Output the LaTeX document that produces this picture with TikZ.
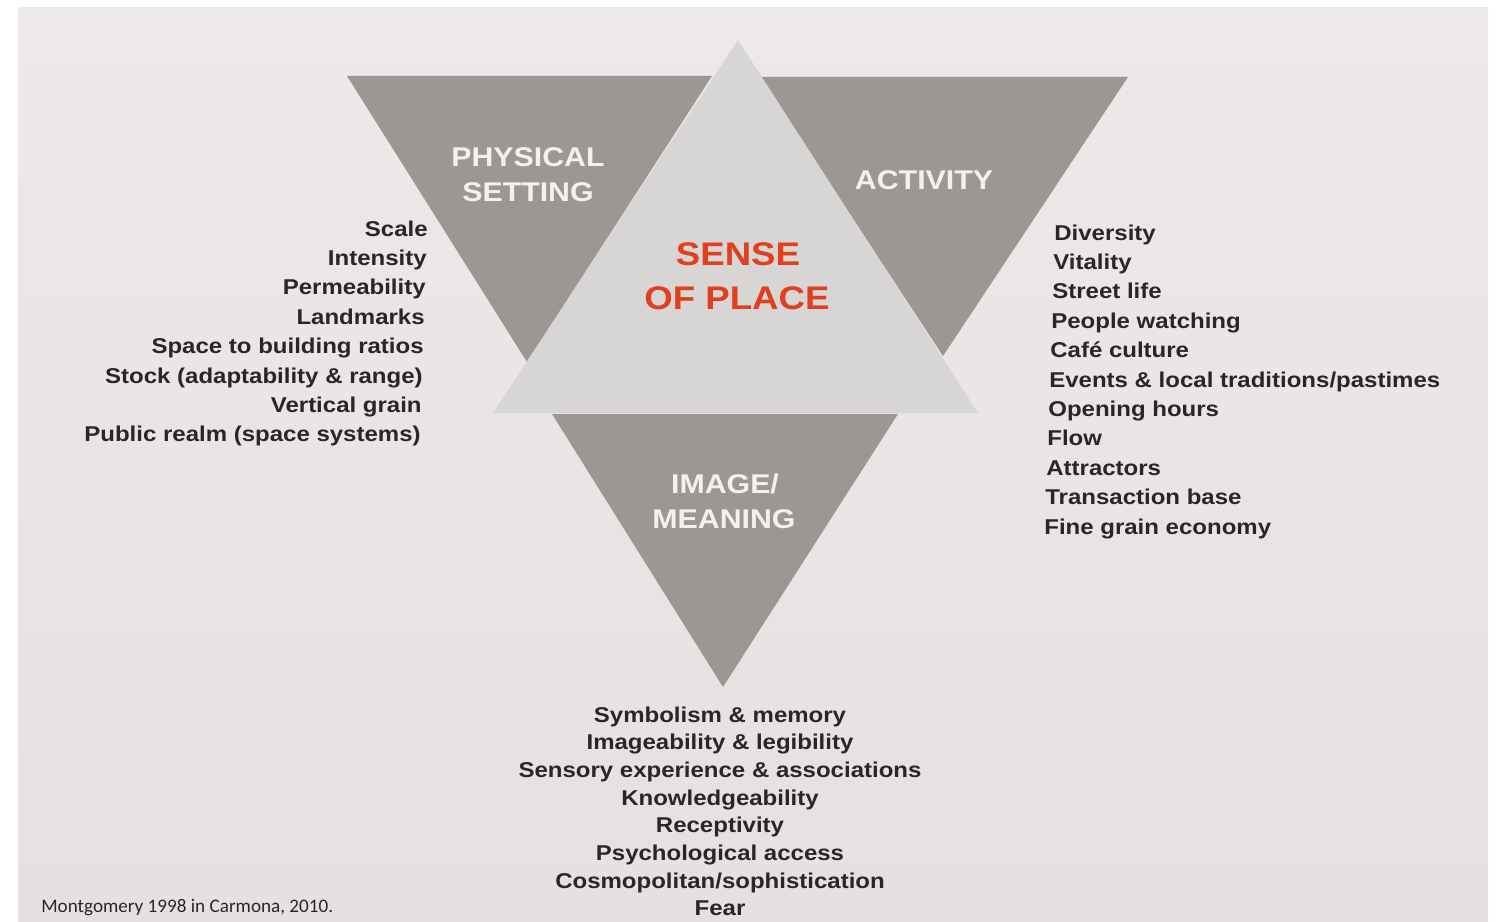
\documentclass[tikz,border=0pt]{standalone}
\usepackage{fontspec}
\setmainfont{Liberation Sans}[FakeStretch=1.12]
\newfontfamily\citefont{Carlito}
\definecolor{pagebg}{RGB}{236,233,232}
\definecolor{pagebgdark}{RGB}{229,225,225}
\definecolor{darkgrey}{RGB}{156,151,149}
\definecolor{lightgrey}{RGB}{216,214,213}
\definecolor{senseRed}{RGB}{224,64,30}
\definecolor{inkdark}{RGB}{42,37,38}
\definecolor{titlewhite}{RGB}{243,241,240}
\tikzset{
  darktri/.style={fill=darkgrey, draw=none},
  lighttri/.style={fill=lightgrey, draw=none},
  titletext/.style={font=\fontsize{15.4}{18}\selectfont\bfseries, text=titlewhite, inner sep=0pt, anchor=base},
  sensetext/.style={font=\fontsize{18.6}{22}\selectfont\bfseries, text=senseRed, inner sep=0pt, anchor=base},
  listtext/.style={font=\fontsize{12.2}{14}\selectfont\bfseries, text=inkdark, inner sep=0pt},
  citetext/.style={font=\citefont\fontsize{10.9}{13}\selectfont, text=inkdark, inner sep=0pt, anchor=base west}
}
\begin{document}
\begin{tikzpicture}[x=0.02cm,y=-0.02cm]
\useasboundingbox (0,0) rectangle (1500,922);
\fill[white] (0,0) rectangle (1500,922);
\shade[top color=pagebg, bottom color=pagebgdark] (18,8) rectangle (1488,922);
% triangles
\coordinate (L1) at (347,76); \coordinate (L2) at (712,76); \coordinate (L3) at (527,362);
\coordinate (R1) at (760,77); \coordinate (R2) at (1128,77); \coordinate (R3) at (943,356);
\coordinate (B1) at (552,414); \coordinate (B2) at (898,414); \coordinate (B3) at (723,687);
\coordinate (C1) at (738,40); \coordinate (C2) at (493,413); \coordinate (C3) at (978,413);
\fill[darktri] (L1) -- (L2) -- (L3) -- cycle;
\fill[darktri] (R1) -- (R2) -- (R3) -- cycle;
\fill[darktri] (B1) -- (B2) -- (B3) -- cycle;
\fill[lighttri] (C1) -- (C2) -- (C3) -- cycle;
% titles
\node[titletext] (phys1) at (528,167) {PHYSICAL};
\node[titletext] (phys2) at (528,202) {SETTING};
\node[titletext] (act) at (924,190) {ACTIVITY};
\node[sensetext] (sense1) at (738,265) {SENSE};
\node[sensetext] (sense2) at (737,309) {OF PLACE};
\node[titletext] (img1) at (725,493) {IMAGE/};
\node[titletext] (img2) at (724,528) {MEANING};
% physical setting list
\foreach \t [count=\i from 0] in {Scale,Intensity,Permeability,Landmarks,Space to building ratios,Stock (adaptability \& range),Vertical grain,Public realm (space systems)}
  \node[listtext, anchor=base east] (ps\i) at (428-\i,236+29.4*\i) {\t};
% activity list
\foreach \t [count=\i from 0] in {Diversity,Vitality,Street life,People watching,Café culture,Events \& local traditions/pastimes,Opening hours,Flow,Attractors,Transaction base,Fine grain economy}
  \node[listtext, anchor=base west] (ac\i) at (1054-\i,240+29.4*\i) {\t};
% image list
\foreach \t [count=\i from 0] in {Symbolism \& memory,Imageability \& legibility,Sensory experience \& associations,Knowledgeability,Receptivity,Psychological access,Cosmopolitan/sophistication,Fear}
  \node[listtext, anchor=base] (im\i) at (720,722+27.7*\i) {\t};
\node[citetext] (cite) at (41,912) {Montgomery 1998 in Carmona, 2010.};
\end{tikzpicture}
\end{document}
